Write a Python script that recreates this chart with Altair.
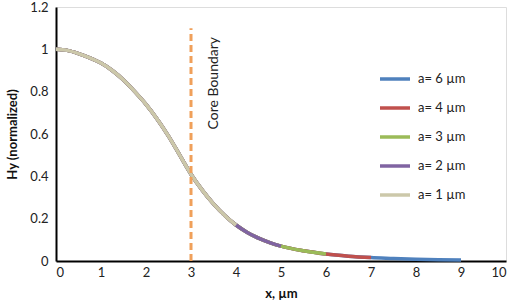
import altair as alt
import pandas as pd

# Shared field profile Hy(x)
x_vals = [0, 0.25, 0.5, 0.75, 1.0, 1.25, 1.5, 1.75, 2.0, 2.25, 2.5, 2.75, 3.0,
          3.25, 3.5, 3.75, 4.0, 4.25, 4.5, 4.75, 5.0, 5.5, 6.0, 6.5, 7.0, 7.5,
          8.0, 8.5, 9.0]
hy_vals = [1.0, 0.995, 0.98, 0.96, 0.935, 0.90, 0.855, 0.80, 0.74, 0.67, 0.59,
           0.50, 0.41, 0.335, 0.27, 0.215, 0.17, 0.135, 0.108, 0.087, 0.07,
           0.048, 0.033, 0.023, 0.016, 0.012, 0.008, 0.006, 0.005]

series_names = ["a= 6 µm", "a= 4 µm", "a= 3 µm", "a= 2 µm", "a= 1 µm"]
series_end_x = [9, 7, 6, 5, 4]
series_colors = ["#4F81BD", "#C0504D", "#9BBB59", "#8064A2", "#CCC8AA"]

boundary_x = [3]
boundary_top = [1.1]
label_text = ["Core Boundary"]

FONT = "Lato"

color_scale = alt.Scale(domain=series_names, range=series_colors)

layers = []
for i, (name, end) in enumerate(zip(series_names, series_end_x)):
    df = pd.DataFrame({
        "x": [xv for xv in x_vals if xv <= end],
        "hy": [hv for xv, hv in zip(x_vals, hy_vals) if xv <= end],
    })
    df["series"] = name
    enc = dict(
        x=alt.X("x:Q", scale=alt.Scale(domain=[0, 10], nice=False),
                axis=alt.Axis(title="x, µm", values=list(range(0, 11)),
                              grid=False, ticks=False, domainColor="black",
                              domainWidth=2, labelFontSize=13, labelFont=FONT,
                              labelColor="#222", labelPadding=5,
                              titleFont=FONT, titleFontSize=13,
                              titleFontWeight="bold", titleColor="#111",
                              titlePadding=8)),
        y=alt.Y("hy:Q", scale=alt.Scale(domain=[0, 1.2], nice=False),
                axis=alt.Axis(title="Hy (normalized)",
                              values=[0, 0.2, 0.4, 0.6, 0.8, 1.0, 1.2],
                              format="~g", grid=False, ticks=False,
                              domainColor="black", domainWidth=2,
                              labelFontSize=13, labelFont=FONT,
                              labelColor="#222", labelPadding=8,
                              titleFont=FONT, titleFontSize=13,
                              titleFontWeight="bold", titleColor="#111",
                              titlePadding=10)),
        color=alt.Color("series:N", scale=color_scale,
                        legend=alt.Legend(title=None, orient="none",
                                          legendX=322, legendY=55,
                                          symbolType="stroke",
                                          symbolSize=900,
                                          symbolStrokeWidth=3.5,
                                          labelFont=FONT, labelFontSize=13,
                                          labelColor="#222",
                                          rowPadding=5, labelOffset=6)),
    )
    layers.append(
        alt.Chart(df).mark_line(strokeWidth=3.5, interpolate="monotone")
        .encode(**enc)
    )

rule_df = pd.DataFrame({"x": boundary_x, "y0": [0], "y1": boundary_top})
rule = alt.Chart(rule_df).mark_rule(
    color="#F0A05A", strokeWidth=3, strokeDash=[7, 4]
).encode(x="x:Q", y="y0:Q", y2="y1:Q")

text_df = pd.DataFrame({"x": [3.5], "y": [0.84], "t": label_text})
text = alt.Chart(text_df).mark_text(
    angle=270, font=FONT, fontSize=14, color="#222", align="center",
    baseline="middle"
).encode(x="x:Q", y="y:Q", text="t:N")

chart = alt.layer(*layers, rule, text).properties(
    width=450, height=254,
    padding={"left": 56, "top": 7, "right": 9, "bottom": 41},
    autosize=alt.AutoSizeParams(type="none"),
).configure_view(stroke="#333", strokeWidth=1.2).configure(background="white")

chart.save("out.html", embed_options={"renderer": "svg", "actions": False})
